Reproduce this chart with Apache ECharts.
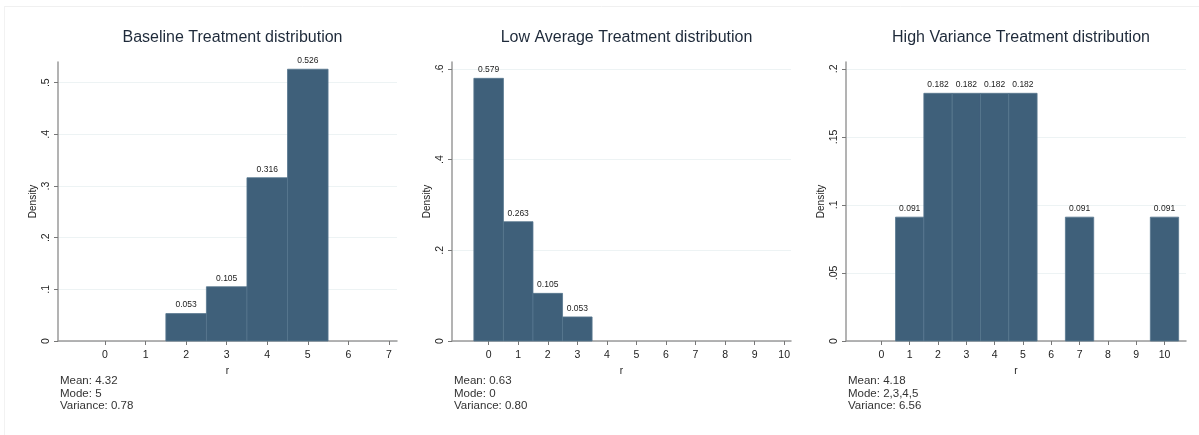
<!DOCTYPE html>
<html>
<head>
<meta charset="utf-8">
<script src="https://cdn.jsdelivr.net/npm/echarts@6/dist/echarts.min.js"></script>
<style>
  html, body { margin: 0; padding: 0; background: #fff; }
  #chart { width: 1199px; height: 435px; }
</style>
</head>
<body>
<div id="chart"></div>
<script>
// Panel titles
const titles = [
  'Baseline Treatment distribution',
  'Low Average Treatment distribution',
  'High Variance Treatment distribution'
];

// Histogram bins (r values) and densities for each treatment
const baselineR = [2, 3, 4, 5];
const baselineDensity = [0.053, 0.105, 0.316, 0.526];

const lowAvgR = [0, 1, 2, 3];
const lowAvgDensity = [0.579, 0.263, 0.105, 0.053];

const highVarR = [1, 2, 3, 4, 5, 7, 10];
const highVarDensity = [0.091, 0.182, 0.182, 0.182, 0.182, 0.091, 0.091];

// Axis tick values
const baselineXTicks = [0, 1, 2, 3, 4, 5, 6, 7];
const baselineYTicks = [0, 0.1, 0.2, 0.3, 0.4, 0.5];
const lowAvgXTicks = [0, 1, 2, 3, 4, 5, 6, 7, 8, 9, 10];
const lowAvgYTicks = [0, 0.2, 0.4, 0.6];
const highVarXTicks = [0, 1, 2, 3, 4, 5, 6, 7, 8, 9, 10];
const highVarYTicks = [0, 0.05, 0.1, 0.15, 0.2];

// Summary statistics printed under each panel
const baselineStats = ['Mean: 4.32', 'Mode: 5', 'Variance: 0.78'];
const lowAvgStats = ['Mean: 0.63', 'Mode: 0', 'Variance: 0.80'];
const highVarStats = ['Mean: 4.18', 'Mode: 2,3,4,5', 'Variance: 6.56'];

const FONT = '"Liberation Sans", Arial, sans-serif';
const BAR_FILL = '#3f607a';
const BAR_EDGE = '#57768e';
const AXIS_COLOR = '#9a9a9a';
const GRID_COLOR = '#edf3f4';

// Layout of the three plot regions (pixels) and their axis ranges
const panels = [
  { r: baselineR, d: baselineDensity, xt: baselineXTicks, yt: baselineYTicks, stats: baselineStats,
    left: 58, width: 339, xmin: -1.16, xmax: 7.2, ymax: 0.54 },
  { r: lowAvgR, d: lowAvgDensity, xt: lowAvgXTicks, yt: lowAvgYTicks, stats: lowAvgStats,
    left: 452, width: 339, xmin: -1.24, xmax: 10.23, ymax: 0.615 },
  { r: highVarR, d: highVarDensity, xt: highVarXTicks, yt: highVarYTicks, stats: highVarStats,
    left: 846, width: 340, xmin: -1.25, xmax: 10.76, ymax: 0.205 }
];
const GRID_TOP = 62, GRID_HEIGHT = 279;

function yLabel(v) {
  if (v === 0) return '0';
  return String(+v.toFixed(3)).replace(/^0\./, '.');
}

const option = {
  animation: false,
  backgroundColor: '#ffffff',
  textStyle: { fontFamily: FONT },
  title: panels.map((p, i) => ({
    text: titles[i],
    left: p.left + p.width / 2,
    top: 25,
    textAlign: 'center',
    textStyle: { fontFamily: FONT, fontSize: 16, fontWeight: 'normal', color: '#1e2a3a' }
  })),
  grid: panels.map(p => ({
    left: p.left, top: GRID_TOP, width: p.width, height: GRID_HEIGHT, containLabel: false
  })),
  xAxis: panels.map((p, i) => ({
    type: 'value', gridIndex: i, min: p.xmin, max: p.xmax,
    name: 'r', nameLocation: 'middle', nameGap: 21,
    nameTextStyle: { fontFamily: FONT, fontSize: 10, color: '#222' },
    axisLine: { show: true, onZero: false, lineStyle: { color: AXIS_COLOR, width: 1.5 } },
    axisTick: { show: true, length: 4, inside: false, customValues: p.xt, lineStyle: { color: '#777', width: 1 } },
    axisLabel: { customValues: p.xt, margin: 9, fontFamily: FONT, fontSize: 10.5, color: '#222' },
    splitLine: { show: false }
  })),
  yAxis: panels.map((p, i) => ({
    type: 'value', gridIndex: i, min: 0, max: p.ymax,
    name: 'Density', nameLocation: 'middle', nameGap: 20, nameRotate: 90,
    nameTextStyle: { fontFamily: FONT, fontSize: 10, color: '#222' },
    axisLine: { show: true, onZero: false, lineStyle: { color: AXIS_COLOR, width: 1.5 } },
    axisTick: { show: true, length: 4, customValues: p.yt, lineStyle: { color: '#777', width: 1 } },
    axisLabel: {
      customValues: p.yt, rotate: 90, margin: 6, fontFamily: FONT, fontSize: 10.5, color: '#222',
      formatter: yLabel
    },
    splitLine: { show: true, lineStyle: { color: GRID_COLOR, width: 1.2 } }
  })),
  series: panels.map((p, i) => ({
    type: 'custom',
    xAxisIndex: i, yAxisIndex: i,
    data: p.r.map((r, k) => [r, p.d[k]]),
    renderItem: function (params, api) {
      const x = api.value(0), y = api.value(1);
      const a = api.coord([x - 0.5, 0]);
      const b = api.coord([x + 0.5, y]);
      return {
        type: 'group',
        children: [
          {
            type: 'rect',
            shape: { x: a[0], y: b[1], width: b[0] - a[0], height: a[1] - b[1] },
            style: { fill: BAR_FILL, stroke: BAR_EDGE, lineWidth: 0.8 }
          },
          {
            type: 'text',
            style: {
              x: (a[0] + b[0]) / 2, y: b[1] - 4,
              text: y.toFixed(3),
              align: 'center', verticalAlign: 'bottom',
              font: '8.5px ' + FONT, fill: '#222'
            }
          }
        ]
      };
    }
  })),
  graphic: [
    // light frame along the top and left edges
    { type: 'line', shape: { x1: 4, y1: 6.5, x2: 1199, y2: 6.5 }, style: { stroke: '#f0f0f0', lineWidth: 1 }, silent: true },
    { type: 'line', shape: { x1: 4.5, y1: 6, x2: 4.5, y2: 435 }, style: { stroke: '#f2f2f2', lineWidth: 1 }, silent: true }
  ].concat(panels.map(p => ({
    type: 'text',
    left: p.left + 2,
    top: 375,
    style: {
      text: p.stats.join('\n'),
      font: '11.5px ' + FONT,
      lineHeight: 12.5,
      fill: '#333'
    }
  })))
};

const chart = echarts.init(document.getElementById('chart'), null, { renderer: 'canvas' });
chart.setOption(option);
</script>
</body>
</html>
